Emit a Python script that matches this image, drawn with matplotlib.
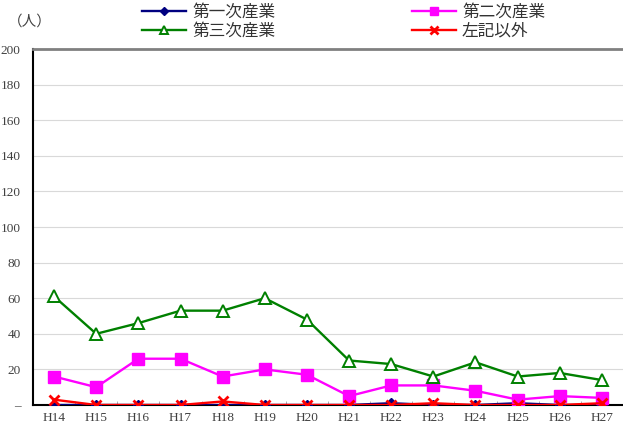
import numpy as np
import matplotlib.pyplot as plt
from matplotlib.ticker import FixedLocator

plt.rcParams['font.family'] = ['Noto Sans CJK JP', 'DejaVu Sans']

years = ['H14', 'H15', 'H16', 'H17', 'H18', 'H19', 'H20',
         'H21', 'H22', 'H23', 'H24', 'H25', 'H26', 'H27']
primary = [0, 0, 0, 0, 0, 0, 0, 0, 1, 0, 0, 1, 0, 0]
secondary = [16, 10, 26, 26, 16, 20, 17, 5, 11, 11, 8, 3, 5, 4]
tertiary = [61, 40, 46, 53, 53, 60, 48, 25, 23, 16, 24, 16, 18, 14]
other = [3, 0, 0, 0, 2, 0, 0, 0, 0, 1, 0, 0, 0, 1]
yticks = [0, 20, 40, 60, 80, 100, 120, 140, 160, 180, 200]

fig = plt.figure(figsize=(6.23, 4.26), dpi=100)
ax = fig.add_axes([33 / 623, 21 / 426, 1.0 - 33 / 623, 356 / 426])
x = np.arange(len(years))

l1, = ax.plot(x, primary, color='#000080', lw=1.7, marker='D', ms=5, zorder=3)
l2, = ax.plot(x, secondary, color='#ff00ff', lw=1.7, marker='s', ms=8, zorder=3)
l3, = ax.plot(x, tertiary, color='#008000', lw=1.7, marker='^', ms=8,
              mfc='white', mec='#008000', mew=1.4, zorder=3)
l4, = ax.plot(x, other, color='#ff0000', lw=1.7, marker='x', ms=7, mew=2, zorder=4)

ax.set_xlim(-0.5, len(years) - 0.5)
ax.set_ylim(0, 200)
ax.set_yticks(yticks)
ax.set_yticklabels(['–'] + [str(v) for v in yticks[1:]],
                   fontfamily='Liberation Serif', fontsize=9.5, color='#404040')
ax.set_xticks(x)
ax.set_xticklabels(years, fontfamily='Liberation Serif', fontsize=9.5, color='#404040')
ax.tick_params(axis='x', length=0, pad=5)
ax.tick_params(axis='y', length=0, pad=9)
ax.xaxis.set_minor_locator(FixedLocator(np.arange(-0.5, len(years), 1.0)))
ax.tick_params(axis='x', which='minor', direction='in', length=3, color='#a0a0a0')
ax.grid(axis='y', color='#d9d9d9', lw=0.8)
ax.set_axisbelow(True)

ax.spines['left'].set_color('black')
ax.spines['left'].set_linewidth(1.5)
ax.spines['bottom'].set_color('black')
ax.spines['bottom'].set_linewidth(1.5)
ax.spines['top'].set_color('#808080')
ax.spines['top'].set_linewidth(2)
ax.spines['right'].set_visible(False)

fig.text(8 / 623, 1 - 22 / 426, '（人）', fontsize=10.5, va='center', color='#404040')

fig.legend([l1, l3, l2, l4], ['第一次産業', '第三次産業', '第二次産業', '左記以外'],
           ncol=2, loc='upper left', bbox_to_anchor=(141 / 623, 1 - 3 / 426),
           frameon=False, fontsize=12, handlelength=2.65, handletextpad=0.36,
           columnspacing=8.2, labelspacing=0.1, borderaxespad=0.0,
           borderpad=0.05, labelcolor='#333333', markerscale=0.8)

fig.savefig('out.png', dpi=100)
